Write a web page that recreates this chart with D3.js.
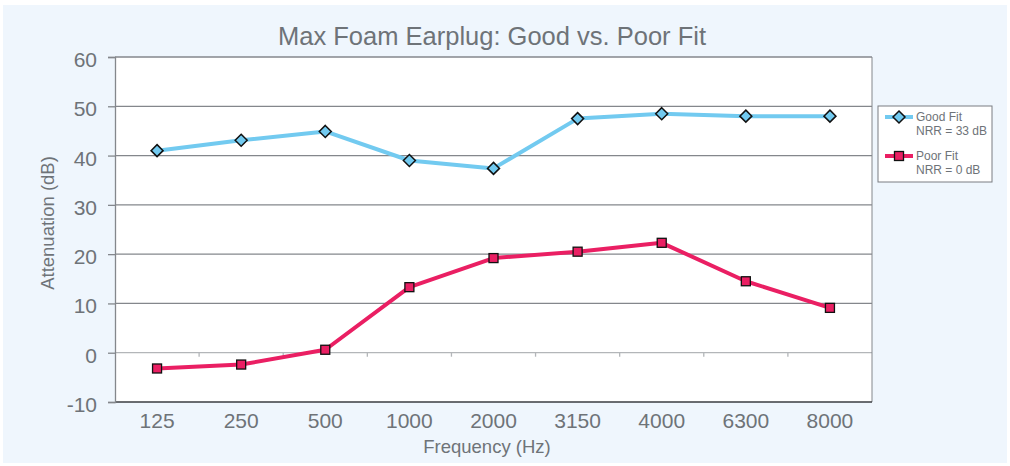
<!DOCTYPE html>
<html>
<head>
<meta charset="utf-8">
<script src="https://d3js.org/d3.v7.min.js"></script>
<style>
    body { margin: 0; background: #ffffff; }
    text { font-family: "Liberation Sans", Arial, sans-serif; fill: #6e7378; }
</style>
</head>
<body>
<svg id="chart" width="1010" height="466"></svg>
<script>
    // chart data
    var frequencies = ["125", "250", "500", "1000", "2000", "3150", "4000", "6300", "8000"];
    var goodFit = [41.0, 43.1, 44.9, 39.0, 37.4, 47.5, 48.5, 48.0, 48.0];
    var poorFit = [-3.2, -2.4, 0.6, 13.3, 19.2, 20.5, 22.3, 14.5, 9.1];
    var yTicks = [-10, 0, 10, 20, 30, 40, 50, 60];
    var legendItems = [
        { name: "Good Fit", sub: "NRR = 33 dB", values: goodFit, color: "#72caf0", shape: "diamond" },
        { name: "Poor Fit", sub: "NRR = 0 dB", values: poorFit, color: "#ea1f63", shape: "square" }
    ];

    var svg = d3.select("#chart");

    // light blue panel
    svg.append("rect")
        .attr("x", 3).attr("y", 5)
        .attr("width", 1004).attr("height", 458)
        .attr("fill", "#eff6fd");

    var margin = { top: 57, left: 115 },
        width = 757,
        height = 345;

    var g = svg.append("g")
        .attr("transform", "translate(" + margin.left + "," + margin.top + ")");

    var x = d3.scaleBand()
        .domain(frequencies)
        .range([0, width]);

    var y = d3.scaleLinear()
        .domain([-10, 60])
        .range([height, 0]);

    // plot area
    g.append("rect")
        .attr("width", width).attr("height", height)
        .attr("fill", "#ffffff");

    // gridlines
    g.selectAll(".grid")
        .data(yTicks.filter(function (d) { return d > -10 && d < 60; }))
        .enter()
        .append("line")
        .attr("x1", 0).attr("x2", width)
        .attr("y1", function (d) { return y(d); })
        .attr("y2", function (d) { return y(d); })
        .attr("stroke", function (d) { return d === 0 ? "#b3b6b9" : "#84878c"; })
        .attr("stroke-width", 1.3);

    // frame
    g.append("line").attr("x1", 0).attr("x2", width).attr("y1", 0).attr("y2", 0)
        .attr("stroke", "#84878c").attr("stroke-width", 1.3);
    g.append("line").attr("x1", width).attr("x2", width).attr("y1", 0).attr("y2", height)
        .attr("stroke", "#84878c").attr("stroke-width", 1);
    g.append("line").attr("x1", 0).attr("x2", width).attr("y1", height).attr("y2", height)
        .attr("stroke", "#3a3d40").attr("stroke-width", 1.3);

    // category ticks on the zero line
    g.selectAll(".xtick")
        .data(frequencies.slice(1))
        .enter()
        .append("line")
        .attr("x1", function (d) { return x(d); })
        .attr("x2", function (d) { return x(d); })
        .attr("y1", y(0)).attr("y2", y(0) + 4)
        .attr("stroke", "#b3b6b9").attr("stroke-width", 1.3);

    // y axis
    var yAxis = g.append("g")
        .call(d3.axisLeft(y).tickValues(yTicks).tickSize(7).tickPadding(11)
            .tickFormat(function (d) { return String(d); }));
    yAxis.select(".domain").attr("stroke", "#84878c").attr("stroke-width", 1.3);
    yAxis.selectAll(".tick line").attr("stroke", "#84878c").attr("stroke-width", 1.3);
    yAxis.selectAll(".tick text")
        .attr("font-size", 21)
        .attr("font-family", null)
        .attr("fill", "#6e7378")
        .attr("dy", "0.45em");

    // x labels
    g.selectAll(".xlabel")
        .data(frequencies)
        .enter()
        .append("text")
        .attr("x", function (d) { return x(d) + x.bandwidth() / 2; })
        .attr("y", height + 26)
        .attr("text-anchor", "middle")
        .attr("font-size", 21)
        .text(function (d) { return d; });

    // axis titles
    svg.append("text")
        .attr("x", 487).attr("y", 453)
        .attr("text-anchor", "middle")
        .attr("font-size", 18.5)
        .text("Frequency (Hz)");

    svg.append("text")
        .attr("transform", "translate(54,223) rotate(-90)")
        .attr("text-anchor", "middle")
        .attr("font-size", 18.5)
        .text("Attenuation (dB)");

    // title
    svg.append("text")
        .attr("x", 492).attr("y", 45)
        .attr("text-anchor", "middle")
        .attr("font-size", 25.5)
        .text("Max Foam Earplug: Good vs. Poor Fit");

    var line = d3.line()
        .x(function (d, i) { return x(frequencies[i]) + x.bandwidth() / 2; })
        .y(function (d) { return y(d); });

    function drawMarker(sel, shape, color) {
        if (shape === "diamond") {
            sel.append("path")
                .attr("d", "M0,-6L6,0L0,6L-6,0Z")
                .attr("fill", color)
                .attr("stroke", "#111").attr("stroke-width", 1.5);
        } else {
            sel.append("rect")
                .attr("x", -4.5).attr("y", -4.5)
                .attr("width", 9).attr("height", 9)
                .attr("fill", color)
                .attr("stroke", "#111").attr("stroke-width", 1.3);
        }
    }

    legendItems.forEach(function (s) {
        g.append("path")
            .datum(s.values)
            .attr("d", line)
            .attr("fill", "none")
            .attr("stroke", s.color)
            .attr("stroke-width", 4)
            .attr("stroke-linejoin", "round");

        g.selectAll(null)
            .data(s.values)
            .enter()
            .append("g")
            .attr("transform", function (d, i) {
                return "translate(" + (x(frequencies[i]) + x.bandwidth() / 2) + "," + y(d) + ")";
            })
            .each(function () { drawMarker(d3.select(this), s.shape, s.color); });
    });

    // legend
    var legend = svg.append("g");
    legend.append("rect")
        .attr("x", 878).attr("y", 106)
        .attr("width", 114).attr("height", 76)
        .attr("fill", "#ffffff")
        .attr("stroke", "#7a7d82").attr("stroke-width", 1);

    legendItems.forEach(function (s, i) {
        var ly = 117 + i * 39;
        legend.append("line")
            .attr("x1", 885).attr("x2", 913)
            .attr("y1", ly).attr("y2", ly)
            .attr("stroke", s.color).attr("stroke-width", 4);
        var m = legend.append("g").attr("transform", "translate(899," + ly + ")");
        drawMarker(m, s.shape, s.color);
        legend.append("text")
            .attr("x", 916).attr("y", ly + 4)
            .attr("font-size", 12)
            .text(s.name);
        legend.append("text")
            .attr("x", 916).attr("y", ly + 18)
            .attr("font-size", 12)
            .text(s.sub);
    });
</script>
</body>
</html>
